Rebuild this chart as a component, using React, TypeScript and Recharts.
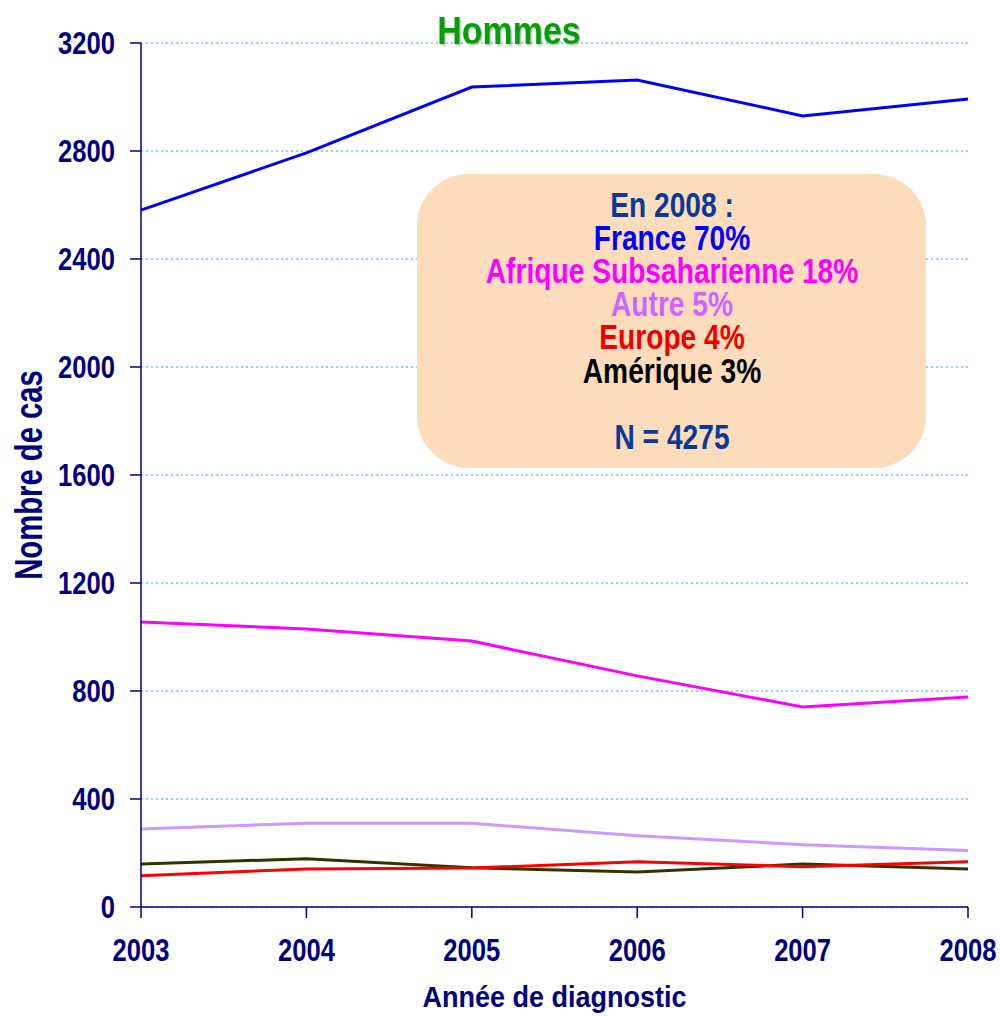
import React from "react";
import { LineChart, Line, XAxis, YAxis, CartesianGrid } from "recharts";

if (typeof document !== "undefined") {
  document.body.style.margin = "0";
  document.body.style.overflow = "hidden";
}

const years = [2003, 2004, 2005, 2006, 2007, 2008];
const france = [2581, 2793, 3037, 3063, 2930, 2993];
const afrique = [1056, 1030, 985, 856, 741, 778];
const autre = [289, 310, 310, 264, 231, 209];
const europe = [116, 141, 144, 168, 149, 168];
const amerique = [159, 179, 145, 130, 159, 141];
const yTicks = [0, 400, 800, 1200, 1600, 2000, 2400, 2800, 3200];

const boxLines = [
  { text: "En 2008 :", color: "#0a3a96" },
  { text: "France 70%", color: "#0000ff" },
  { text: "Afrique Subsaharienne 18%", color: "#ff00ff" },
  { text: "Autre 5%", color: "#cc66ff" },
  { text: "Europe 4%", color: "#ee0000" },
  { text: "Amérique 3%", color: "#000000" },
  { text: "", color: "#000000" },
  { text: "N = 4275", color: "#0a3a96" },
];

const data = years.map((y, i) => ({
  year: y,
  france: france[i],
  afrique: afrique[i],
  autre: autre[i],
  europe: europe[i],
  amerique: amerique[i],
}));

const FONT = "'Liberation Sans', Arial, sans-serif";
const NAVY = "#000080";
const NARROW = 0.8;

function YTick(props: any) {
  const { x, y, payload } = props;
  return (
    <g transform={`translate(${x},${y})`}>
      <text
        transform={`scale(${NARROW},1)`}
        textAnchor="end"
        dy={11}
        fill={NAVY}
        fontSize={32}
        fontWeight={700}
        fontFamily={FONT}
      >
        {payload.value}
      </text>
    </g>
  );
}

function XTick(props: any) {
  const { x, y, payload } = props;
  return (
    <g transform={`translate(${x},${y})`}>
      <text
        transform={`scale(${NARROW},1)`}
        textAnchor="middle"
        dy={23}
        fill={NAVY}
        fontSize={32}
        fontWeight={700}
        fontFamily={FONT}
      >
        {payload.value}
      </text>
    </g>
  );
}

function XLabel(props: any) {
  const vb = props.viewBox || { x: 141, y: 907, width: 827, height: 30 };
  const cx = vb.x + vb.width / 2;
  const by = vb.y + 100;
  return (
    <g transform={`translate(${cx},${by})`}>
      <text
        transform="scale(0.9,1)"
        textAnchor="middle"
        fill={NAVY}
        fontSize={30}
        fontWeight={700}
        fontFamily={FONT}
      >
        Année de diagnostic
      </text>
    </g>
  );
}

function YLabel(props: any) {
  const vb = props.viewBox || { x: 61, y: 43, width: 80, height: 864 };
  const bx = vb.x - 19;
  const cy = vb.y + vb.height / 2;
  return (
    <g transform={`translate(${bx},${cy}) rotate(-90)`}>
      <text
        transform="scale(0.77,1)"
        textAnchor="middle"
        fill={NAVY}
        fontSize={38}
        fontWeight={700}
        fontFamily={FONT}
      >
        Nombre de cas
      </text>
    </g>
  );
}

export default function App() {
  const boxBaselines = [217, 250, 283, 316, 349, 383, 416, 449];
  return (
    <div style={{ position: "relative", width: 1000, height: 1016 }}>
      <LineChart
        width={1000}
        height={1016}
        data={data}
        margin={{ top: 43, right: 32, bottom: 79, left: 61 }}
      >
        <CartesianGrid
          horizontal={true}
          vertical={false}
          stroke="#99ccff"
          strokeDasharray="2 3"
          strokeWidth={2}
        />
        <XAxis
          dataKey="year"
          type="number"
          domain={[2003, 2008]}
          ticks={years}
          allowDecimals={false}
          height={30}
          axisLine={{ stroke: NAVY, strokeWidth: 1.5 }}
          tickLine={{ stroke: NAVY, strokeWidth: 1.5 }}
          tickSize={11}
          tickMargin={20}
          tick={<XTick />}
          label={<XLabel />}
        />
        <YAxis
          type="number"
          domain={[0, 3200]}
          ticks={yTicks}
          width={80}
          axisLine={{ stroke: NAVY, strokeWidth: 1.5 }}
          tickLine={{ stroke: NAVY, strokeWidth: 1.5 }}
          tickSize={11}
          tickMargin={15}
          tick={<YTick />}
          label={<YLabel />}
        />
        <Line type="linear" dataKey="france" stroke="#0000ff" strokeWidth={3} dot={false} isAnimationActive={false} />
        <Line type="linear" dataKey="afrique" stroke="#ff00ff" strokeWidth={3} dot={false} isAnimationActive={false} />
        <Line type="linear" dataKey="autre" stroke="#cc99ff" strokeWidth={3} dot={false} isAnimationActive={false} />
        <Line type="linear" dataKey="amerique" stroke="#333300" strokeWidth={3} dot={false} isAnimationActive={false} />
        <Line type="linear" dataKey="europe" stroke="#ff0000" strokeWidth={3} dot={false} isAnimationActive={false} />
      </LineChart>
      <svg
        width={1000}
        height={1016}
        style={{ position: "absolute", left: 0, top: 0, pointerEvents: "none" }}
      >
        <defs>
          <filter id="sh" x="-10%" y="-10%" width="130%" height="140%">
            <feDropShadow dx="1.5" dy="1.5" stdDeviation="0.8" floodColor="#888888" floodOpacity="0.6" />
          </filter>
        </defs>
        <g transform="translate(509,44)">
          <text
            transform="scale(0.87,1)"
            textAnchor="middle"
            fill="#00a000"
            fontSize={39}
            fontWeight={700}
            fontFamily={FONT}
            filter="url(#sh)"
          >
            Hommes
          </text>
        </g>
        <rect x={417} y={174} width={509} height={294} rx={52} ry={52} fill="#fddcbc" />
        {boxLines.map((l, i) =>
          l.text ? (
            <g key={i} transform={`translate(672,${boxBaselines[i]})`}>
              <text
                transform="scale(0.805,1)"
                textAnchor="middle"
                fill={l.color}
                fontSize={35}
                fontWeight={700}
                fontFamily={FONT}
              >
                {l.text}
              </text>
            </g>
          ) : null
        )}
      </svg>
    </div>
  );
}
